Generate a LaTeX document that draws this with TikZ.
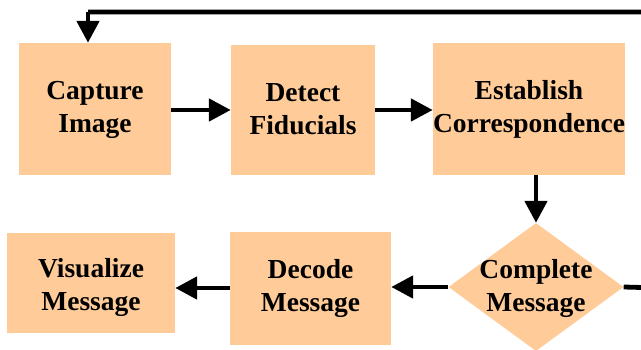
\documentclass[tikz,border=0pt]{standalone}
\usepackage{fontspec}
\setmainfont{Liberation Serif}[BoldFont={Liberation Serif Bold}]
\usetikzlibrary{arrows.meta,shapes.geometric}
\definecolor{peach}{HTML}{FFCC99}
\begin{document}
\begin{tikzpicture}[x=1pt,y=-1pt,
  box/.style={fill=peach,draw=none,inner sep=0pt},
  lbl/.style={font=\fontsize{27.5}{33}\selectfont\bfseries,align=center},
  conn/.style={line width=4.8pt,-{Triangle[length=22pt,width=22pt]}},
  plain/.style={line width=4.8pt}]
\useasboundingbox (0,0) rectangle (641,350);
\clip (0,0) rectangle (641,350);
\node[box,minimum width=152pt,minimum height=132pt] (cap) at (95,109) {};
\node[box,minimum width=144pt,minimum height=130pt] (det) at (303,110) {};
\node[box,minimum width=192pt,minimum height=132pt] (est) at (529,109) {};
\node[diamond,fill=peach,minimum width=175pt,minimum height=128pt,inner sep=0pt,aspect=1.37] (cmp) at (536,287) {};
\node[box,minimum width=161pt,minimum height=113pt] (dec) at (310.5,288.5) {};
\node[box,minimum width=168pt,minimum height=100pt] (vis) at (91,283) {};
\node[lbl] at (95,110) {Capture\\Image};
\node[lbl] at (303,109) {Detect\\Fiducials};
\node[lbl] at (529,109) {Establish\\Correspondence};
\node[lbl] at (536,288) {Complete\\Message};
\node[lbl] at (310.5,288) {Decode\\Message};
\node[lbl] at (91,287) {Visualize\\Message};
\coordinate (farR) at (660,288);
\coordinate (farT) at (660,12);
\coordinate (topL) at (88,12);
\draw[conn] (cap.east |- 0,110) -- (det.west |- 0,110);
\draw[conn] (det.east |- 0,110) -- (est.west |- 0,110);
\draw[conn] (est.south -| cmp.north) -- (cmp.north);
\draw[conn] (cmp.west) -- (dec.east |- cmp.west);
\draw[conn] (dec.west |- 0,288) -- (vis.east |- 0,288);
\draw[plain] (cmp.east) -- (farR) -- (farT) -- (topL);
\draw[conn] (topL) -- (topL |- cap.north);
\end{tikzpicture}
\end{document}
